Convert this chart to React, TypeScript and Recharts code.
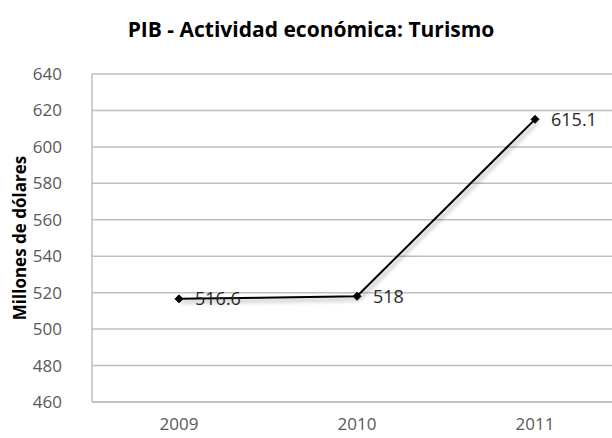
import { CartesianGrid, LabelList, Line, LineChart, XAxis, YAxis } from 'recharts'

const years = ['2009', '2010', '2011']
const gdpTourism = [516.6, 518, 615.1]
const yTicks = [460, 480, 500, 520, 540, 560, 580, 600, 620, 640]

const data = years.map((year, i) => ({ year, value: gdpTourism[i] }))

const FONT = "'Open Sans', 'Liberation Sans', sans-serif"
const GRID = '#bfbfbf'
const TICK = '#595959'

function Diamond({ cx, cy }: { cx?: number; cy?: number }) {
  if (cx == null || cy == null) return null
  const r = 4
  return (
    <polygon
      points={`${cx},${cy - r} ${cx + r},${cy} ${cx},${cy + r} ${cx - r},${cy}`}
      fill="#000"
      stroke="#000"
      strokeWidth={1}
    />
  )
}

export default function App() {
  return (
    <div
      style={{
        position: 'absolute',
        left: 0,
        top: 0,
        width: 612,
        height: 438,
        overflow: 'hidden',
        background: '#fff',
        fontFamily: FONT,
      }}
    >
      <style>{`.tour-line { filter: drop-shadow(2px 3px 2px rgba(0,0,0,0.35)); }`}</style>
      <div
        style={{
          position: 'absolute',
          left: 0,
          width: 622,
          top: 15,
          textAlign: 'center',
          fontSize: 21,
          fontWeight: 700,
          color: '#000',
        }}
      >
        PIB - Actividad económica: Turismo
      </div>
      <LineChart
        width={640}
        height={438}
        data={data}
        margin={{ top: 74, right: 18, bottom: 0, left: 0 }}
      >
        <CartesianGrid vertical={false} stroke={GRID} strokeWidth={1.5} />
        <XAxis
          dataKey="year"
          padding={{ left: 87, right: 87 }}
          axisLine={{ stroke: GRID, strokeWidth: 1.5 }}
          tickLine={false}
          tickSize={0}
          tickMargin={16}
          height={36}
          tick={{ fill: TICK, fontSize: 17, fontFamily: FONT }}
        />
        <YAxis
          domain={[460, 640]}
          ticks={yTicks}
          interval={0}
          width={92}
          axisLine={{ stroke: GRID, strokeWidth: 1.5 }}
          tickLine={false}
          tickSize={0}
          tickMargin={30}
          tick={{ fill: TICK, fontSize: 17, fontFamily: FONT }}
          label={{
            value: 'Millones de dólares',
            angle: -90,
            position: 'insideLeft',
            dx: 15,
            dy: 0,
            style: { textAnchor: 'middle', fontWeight: 700, fontSize: 17, fill: '#000', fontFamily: FONT },
          }}
        />
        <Line
          className="tour-line"
          dataKey="value"
          stroke="#000"
          strokeWidth={2}
          dot={<Diamond />}
          activeDot={false}
          isAnimationActive={false}
        >
          <LabelList
            dataKey="value"
            position="right"
            offset={16}
            style={{ fill: '#262626', fontSize: 18, fontFamily: FONT }}
          />
        </Line>
      </LineChart>
    </div>
  )
}
